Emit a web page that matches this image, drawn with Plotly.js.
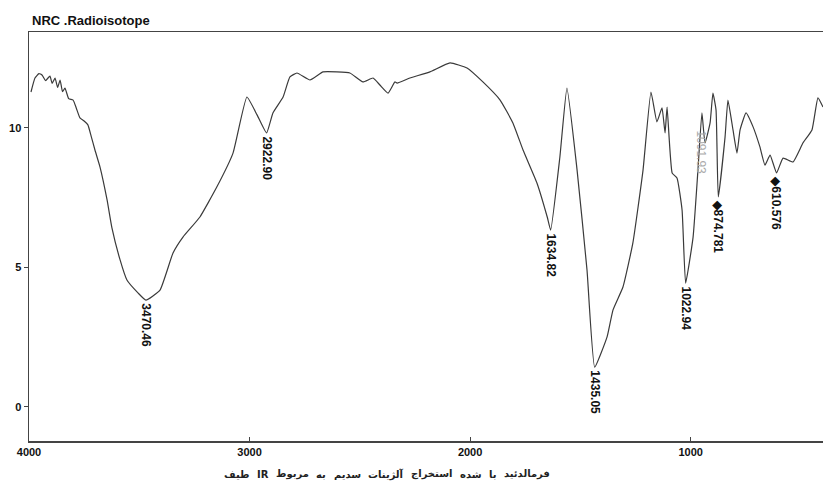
<!DOCTYPE html>
<html>
<head>
<meta charset="utf-8">
<script src="https://cdn.plot.ly/plotly-3.0.1.min.js"></script>
<style>html,body{margin:0;padding:0;background:#fff;}#chart{width:823px;height:486px;}</style>
</head>
<body>
<div id="chart"></div>
<script>
// Wavenumber (cm-1) and transmittance-like values
const wavenumber = [3991,3973,3955,3941,3925,3905,3895,3882,3870,3859,3848,3837,3820,3800,3785,3769,3750,3733,3718,3701,3678,3646,3624,3587,3556,3506,3470,
  3406,3347,3302,3225,3148,3075,3012,2966,2922.9,2894,2848,2817,2785,2726,2667,2604,2545,2486,2440,2409,2372,2341,2331,2273,2182,2091,2014,1942,1864,1806,1760,1697,1650,1634.82,
  1593,1561,1515,1470,1435.05,1379,1352,1307,1262,1216,1180,1153,1130,1116,1107,1084,1062,1039,1022.94,
  989,967,949,935,912,899,885,874.781,844,831,808,790,776,749,717,686,663,640,610.576,581,536,491,450,423,400];
const transmittance = [11.29,11.79,11.95,11.90,11.70,11.86,11.60,11.79,11.45,11.72,11.30,11.43,11.05,11.00,10.70,10.36,10.25,10.11,9.70,9.21,8.60,7.42,6.42,5.27,4.55,4.09,3.83,
  4.19,5.52,6.09,6.81,7.89,9.10,11.11,10.47,9.82,10.54,11.11,11.83,11.97,11.72,12.01,12.01,11.97,11.65,11.79,11.54,11.25,11.65,11.61,11.79,12.01,12.33,12.15,11.65,11.00,10.18,9.21,8.03,6.80,6.34,
  8.96,11.43,8.49,4.91,1.43,2.51,3.48,4.30,5.88,8.49,11.29,10.22,10.72,9.82,10.75,8.39,8.21,7.06,4.44,
  6.09,8.49,10.54,9.46,10.18,11.25,10.65,7.53,9.68,11.00,9.93,9.10,9.93,10.54,10.04,9.32,8.67,9.03,8.39,8.92,8.78,9.46,9.93,11.08,10.75];

const peakWavenumber = [3470.46, 2922.9, 1634.82, 1435.05, 1022.94, 874.781, 610.576];
const peakValue = [3.83, 9.82, 6.34, 1.43, 4.44, 7.53, 8.39];
const peakLabel = ["3470.46", "2922.90", "1634.82", "1435.05", "1022.94", "874.781", "610.576"];
const xTicks = [4000, 3000, 2000, 1000];
const yTicks = [0, 5, 10];
// x-axis caption words, in the left-to-right order they appear on the scan
const captionWords = ["طیف", "IR", "مربوط", "به", "سدیم", "آلژینات", "استخراج", "شده", "با", "فرمالدئید"];

const W = 823, H = 486, ML = 29, MR = 0, MT = 32, MB = 45;
const plotW = W - ML - MR;

const labelFont = {family: "Liberation Sans, Arial", size: 12, color: "#111", weight: 700};
const tickFont = {family: "Liberation Sans, Arial", size: 11, color: "#111", weight: 700};

const annotations = peakLabel.map((t, i) => ({
  x: peakWavenumber[i], y: peakValue[i], xref: "x", yref: "y",
  text: (i >= 5 ? "◆" : "") + t, textangle: 90, showarrow: false,
  xanchor: "center", yanchor: "top", yshift: -1,
  font: labelFont
}));
annotations.push({
  x: 955, y: 10.0, xref: "x", yref: "y", text: "1091.93", textangle: 90, showarrow: false,
  xanchor: "center", yanchor: "top", font: {family: labelFont.family, size: 12, color: "#aaa"}
});
annotations.push({
  xref: "paper", yref: "paper", x: 0.0, y: 1.0, xanchor: "left", yanchor: "bottom", xshift: 1, yshift: 2,
  text: "NRC .Radioisotope", showarrow: false,
  font: {family: "Liberation Sans, Arial", size: 13, color: "#111", weight: 700}
});

// caption: one annotation per word so the words keep the scan's left-to-right order
const capFontFamily = "DejaVu Sans";
const capSize = 10;
const ctx = document.createElement("canvas").getContext("2d");
ctx.font = "bold " + capSize + "px '" + capFontFamily + "'";
const wordW = captionWords.map(w => ctx.measureText(w).width);
const targetW = 326;
const sumW = wordW.reduce((a, b) => a + b, 0);
const gap = Math.max(3, (targetW - sumW) / (captionWords.length - 1));
const totalW = sumW + gap * (captionWords.length - 1);
const capCenterPaper = (385 - ML) / plotW;
let cursor = -totalW / 2;
captionWords.forEach((w, i) => {
  annotations.push({
    xref: "paper", yref: "paper", x: capCenterPaper, y: 0, xanchor: "left", yanchor: "middle",
    xshift: cursor, yshift: -33, text: w, showarrow: false,
    font: {family: capFontFamily + ", sans-serif", size: capSize, color: "#222", weight: 700}
  });
  cursor += wordW[i] + gap;
});

const trace = {
  x: wavenumber, y: transmittance, type: "scatter", mode: "lines",
  line: {color: "#3a3a3a", width: 1.2, shape: "spline", smoothing: 0.4},
  hoverinfo: "skip"
};

const layout = {
  width: W, height: H,
  margin: {l: ML, r: MR, t: MT, b: MB},
  paper_bgcolor: "#fff", plot_bgcolor: "#fff",
  showlegend: false,
  xaxis: {
    range: [4000, 400], tickvals: xTicks, ticktext: xTicks.map(String),
    showgrid: false, zeroline: false, showline: true, mirror: true,
    linecolor: "#444", linewidth: 1.5, ticks: "inside", ticklen: 4, tickcolor: "#444",
    tickfont: tickFont
  },
  yaxis: {
    range: [-1.22, 13.44], tickvals: yTicks, ticktext: yTicks.map(String),
    showgrid: false, zeroline: false, showline: true, mirror: false,
    linecolor: "#444", linewidth: 1.5, ticks: "outside", ticklen: 4, tickcolor: "#444",
    tickfont: tickFont
  },
  annotations: annotations
};

Plotly.newPlot("chart", [trace], layout, {staticPlot: true, displayModeBar: false});
</script>
</body>
</html>
